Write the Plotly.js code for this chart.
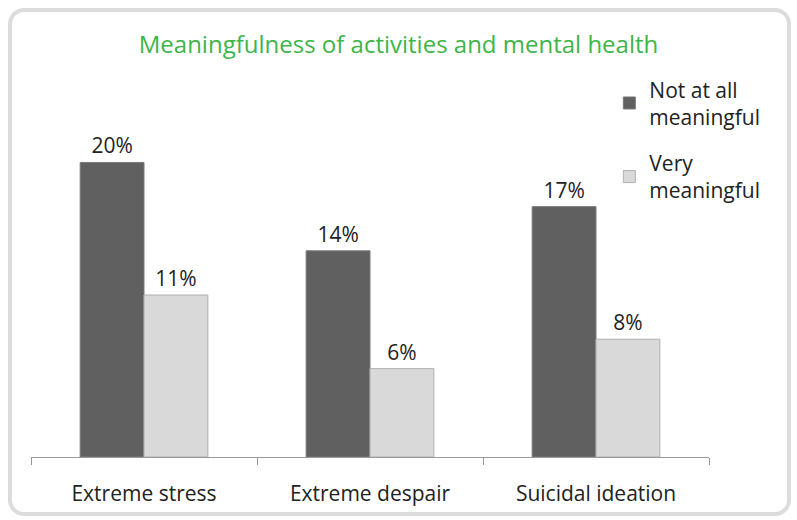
<!DOCTYPE html>
<html><head><meta charset="utf-8">
<script src="https://cdn.plot.ly/plotly-3.0.1.min.js"></script>
<style>
html,body{margin:0;padding:0;background:#fff;}
#wrap{position:relative;width:797px;height:520px;}
#chart{width:797px;height:520px;}
#frame{position:absolute;left:8px;top:8px;width:775px;height:500px;border:4px solid #dcdcdc;border-radius:16px;pointer-events:none;}
</style></head>
<body>
<div id="wrap"><div id="chart"></div><div id="frame"></div></div>
<script>
const categories = ["Extreme stress", "Extreme despair", "Suicidal ideation"];
const notAtAll = [20, 14, 17];
const veryMeaningful = [11, 6, 8];
const seriesNames = ["Not at all<br>meaningful", "Very<br>meaningful"];
const fmt = v => v + "%";

const F = "Open Sans, sans-serif";
const traces = [
  {type:"bar", x:categories, y:notAtAll, name:seriesNames[0], legendgroup:"a",
   marker:{color:"#606060", line:{color:"#7a7a7a", width:1}},
   text:notAtAll.map(fmt), textposition:"outside", cliponaxis:false,
   textfont:{family:F, size:21, color:"#222"}},
  {type:"bar", x:categories, y:veryMeaningful, name:seriesNames[1], legendgroup:"b",
   marker:{color:"#d9d9d9", line:{color:"#b0b0b0", width:1}},
   text:veryMeaningful.map(fmt), textposition:"outside", cliponaxis:false,
   textfont:{family:F, size:21, color:"#222"}}
];

const layout = {
  width:797, height:520,
  margin:{l:31, r:88, t:132.5, b:63},
  paper_bgcolor:"#fff", plot_bgcolor:"#fff",
  barmode:"group", bargap:0.435, bargroupgap:0,
  title:{text:"Meaningfulness of activities and mental health", x:0.5, xref:"container", xanchor:"center", y:0.93, yref:"container",
    font:{family:F, size:24, color:"#3db54a"}},
  xaxis:{showline:true, linecolor:"#999", linewidth:1, ticks:"outside", ticklen:7, tickcolor:"#999",
    tickson:"boundaries", showgrid:false, zeroline:false, ticklabelstandoff:18,
    tickfont:{family:F, size:21, color:"#222"}},
  yaxis:{range:[0,22], visible:false, showgrid:false, zeroline:false},
  showlegend:true,
  legend:{x:0.853, y:1.197, xanchor:"left", yanchor:"top", bgcolor:"rgba(0,0,0,0)",
    font:{family:F, size:21, color:"#222"}, tracegroupgap:16, itemwidth:30}
};

Plotly.newPlot("chart", traces, layout, {displayModeBar:false, staticPlot:true});
</script>
</body></html>
